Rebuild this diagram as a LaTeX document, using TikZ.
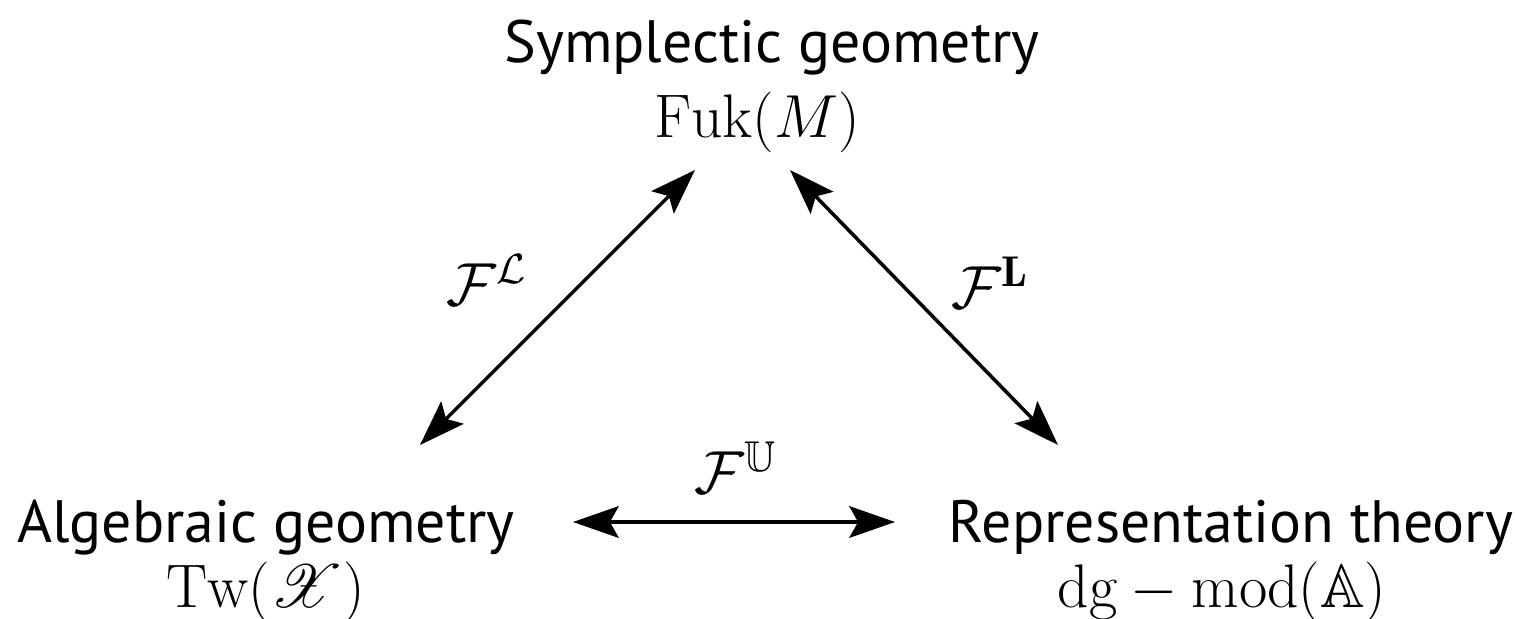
\documentclass[tikz,border=0pt]{standalone}
\usepackage{fontspec}
\usepackage{amssymb}
\usepackage{mathrsfs}
\usetikzlibrary{arrows.meta}
\newfontfamily\areafont{PT Sans}
\begin{document}
\begin{tikzpicture}[x=.01cm,y=-.01cm,line cap=round,line join=round]
  \tikzset{area/.style={anchor=base,inner sep=0pt,font=\areafont\fontsize{17}{20}\selectfont},
    cat/.style={anchor=base,inner sep=0pt,font=\fontsize{17.5}{21}\selectfont},
    functor/.style={inner sep=0pt,font=\fontsize{17.5}{21}\selectfont},
    equiv/.style={line width=1pt,{Stealth[length=13pt,width=9pt,inset=2.5pt]}-{Stealth[length=13pt,width=9pt,inset=2.5pt]}}}
  \useasboundingbox (0,0) rectangle (1515,618);
  \node[area] (symp) at (772,62) {Symplectic geometry};
  \node[cat] (fuk) at (757,137) {$\mathrm{Fuk}(M)$};
  \node[area] (alg) at (266,542) {Algebraic geometry};
  \node[cat] (tw) at (266,607) {$\mathrm{Tw}(\mathscr{X})$};
  \node[area] (rep) at (1231,542) {Representation theory};
  \node[cat] (dgmod) at (1222,607) {$\mathrm{dg}-\mathrm{mod}(\mathbb{A})$};
  \draw[equiv] ([shift={(-62,33)}]fuk.base) -- ([shift={(154,-97)}]alg.base);
  \draw[equiv] ([shift={(33,33)}]fuk.base) -- ([shift={(-173,-97)}]rep.base);
  \draw[equiv] ([shift={(307,-20)}]alg.base) -- ([shift={(-336,-20)}]rep.base);
  \node[functor] (fl) at (487,280) {$\mathcal{F}^{\mathcal{L}}$};
  \node[functor] (fb) at (990,283) {$\mathcal{F}^{\mathbf{L}}$};
  \node[functor] (fu) at (736,468) {$\mathcal{F}^{\mathbb{U}}$};
\end{tikzpicture}
\end{document}
